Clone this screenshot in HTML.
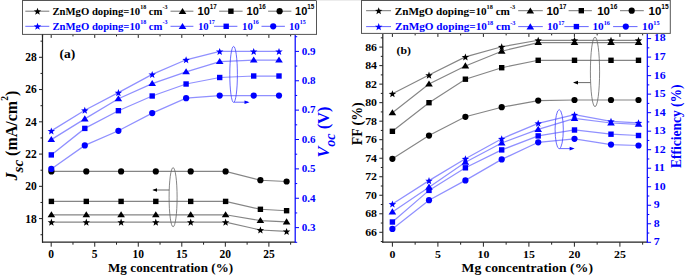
<!DOCTYPE html>
<html><head><meta charset="utf-8"><style>
html,body{margin:0;padding:0;background:#fff;width:685px;height:275px;overflow:hidden;font-family:"Liberation Serif", serif;}
svg{display:block}
</style></head><body>
<svg width="685" height="275" viewBox="0 0 685 275"><line x1="42.50" y1="34.40" x2="42.50" y2="242.70" stroke="#222" stroke-width="1.2"/>
<line x1="42.00" y1="242.20" x2="295.20" y2="242.20" stroke="#222" stroke-width="1.2"/>
<line x1="42.50" y1="34.40" x2="295.20" y2="34.40" stroke="#444" stroke-width="1.0"/>
<line x1="51.20" y1="242.20" x2="51.20" y2="246.70" stroke="#222" stroke-width="1.0"/>
<line x1="51.20" y1="34.40" x2="51.20" y2="37.90" stroke="#222" stroke-width="1.0"/>
<text x="51.20" y="258.40" font-family="'Liberation Serif', serif" font-size="11.5" font-weight="bold" text-anchor="middle" fill="#000" >0</text>
<line x1="72.97" y1="242.20" x2="72.97" y2="244.70" stroke="#222" stroke-width="1.0"/>
<line x1="72.97" y1="34.40" x2="72.97" y2="36.40" stroke="#222" stroke-width="1.0"/>
<line x1="94.74" y1="242.20" x2="94.74" y2="246.70" stroke="#222" stroke-width="1.0"/>
<line x1="94.74" y1="34.40" x2="94.74" y2="37.90" stroke="#222" stroke-width="1.0"/>
<text x="94.74" y="258.40" font-family="'Liberation Serif', serif" font-size="11.5" font-weight="bold" text-anchor="middle" fill="#000" >5</text>
<line x1="116.50" y1="242.20" x2="116.50" y2="244.70" stroke="#222" stroke-width="1.0"/>
<line x1="116.50" y1="34.40" x2="116.50" y2="36.40" stroke="#222" stroke-width="1.0"/>
<line x1="138.27" y1="242.20" x2="138.27" y2="246.70" stroke="#222" stroke-width="1.0"/>
<line x1="138.27" y1="34.40" x2="138.27" y2="37.90" stroke="#222" stroke-width="1.0"/>
<text x="138.27" y="258.40" font-family="'Liberation Serif', serif" font-size="11.5" font-weight="bold" text-anchor="middle" fill="#000" >10</text>
<line x1="160.04" y1="242.20" x2="160.04" y2="244.70" stroke="#222" stroke-width="1.0"/>
<line x1="160.04" y1="34.40" x2="160.04" y2="36.40" stroke="#222" stroke-width="1.0"/>
<line x1="181.81" y1="242.20" x2="181.81" y2="246.70" stroke="#222" stroke-width="1.0"/>
<line x1="181.81" y1="34.40" x2="181.81" y2="37.90" stroke="#222" stroke-width="1.0"/>
<text x="181.81" y="258.40" font-family="'Liberation Serif', serif" font-size="11.5" font-weight="bold" text-anchor="middle" fill="#000" >15</text>
<line x1="203.57" y1="242.20" x2="203.57" y2="244.70" stroke="#222" stroke-width="1.0"/>
<line x1="203.57" y1="34.40" x2="203.57" y2="36.40" stroke="#222" stroke-width="1.0"/>
<line x1="225.34" y1="242.20" x2="225.34" y2="246.70" stroke="#222" stroke-width="1.0"/>
<line x1="225.34" y1="34.40" x2="225.34" y2="37.90" stroke="#222" stroke-width="1.0"/>
<text x="225.34" y="258.40" font-family="'Liberation Serif', serif" font-size="11.5" font-weight="bold" text-anchor="middle" fill="#000" >20</text>
<line x1="247.11" y1="242.20" x2="247.11" y2="244.70" stroke="#222" stroke-width="1.0"/>
<line x1="247.11" y1="34.40" x2="247.11" y2="36.40" stroke="#222" stroke-width="1.0"/>
<line x1="268.88" y1="242.20" x2="268.88" y2="246.70" stroke="#222" stroke-width="1.0"/>
<line x1="268.88" y1="34.40" x2="268.88" y2="37.90" stroke="#222" stroke-width="1.0"/>
<text x="268.88" y="258.40" font-family="'Liberation Serif', serif" font-size="11.5" font-weight="bold" text-anchor="middle" fill="#000" >25</text>
<line x1="290.64" y1="242.20" x2="290.64" y2="244.70" stroke="#222" stroke-width="1.0"/>
<line x1="290.64" y1="34.40" x2="290.64" y2="36.40" stroke="#222" stroke-width="1.0"/>
<line x1="42.50" y1="234.73" x2="40.50" y2="234.73" stroke="#222" stroke-width="1.0"/>
<line x1="42.50" y1="218.60" x2="39.00" y2="218.60" stroke="#222" stroke-width="1.0"/>
<text x="36.80" y="222.50" font-family="'Liberation Serif', serif" font-size="11.5" font-weight="bold" text-anchor="end" fill="#000" >18</text>
<line x1="42.50" y1="202.47" x2="40.50" y2="202.47" stroke="#222" stroke-width="1.0"/>
<line x1="42.50" y1="186.34" x2="39.00" y2="186.34" stroke="#222" stroke-width="1.0"/>
<text x="36.80" y="190.24" font-family="'Liberation Serif', serif" font-size="11.5" font-weight="bold" text-anchor="end" fill="#000" >20</text>
<line x1="42.50" y1="170.21" x2="40.50" y2="170.21" stroke="#222" stroke-width="1.0"/>
<line x1="42.50" y1="154.08" x2="39.00" y2="154.08" stroke="#222" stroke-width="1.0"/>
<text x="36.80" y="157.98" font-family="'Liberation Serif', serif" font-size="11.5" font-weight="bold" text-anchor="end" fill="#000" >22</text>
<line x1="42.50" y1="137.95" x2="40.50" y2="137.95" stroke="#222" stroke-width="1.0"/>
<line x1="42.50" y1="121.82" x2="39.00" y2="121.82" stroke="#222" stroke-width="1.0"/>
<text x="36.80" y="125.72" font-family="'Liberation Serif', serif" font-size="11.5" font-weight="bold" text-anchor="end" fill="#000" >24</text>
<line x1="42.50" y1="105.69" x2="40.50" y2="105.69" stroke="#222" stroke-width="1.0"/>
<line x1="42.50" y1="89.56" x2="39.00" y2="89.56" stroke="#222" stroke-width="1.0"/>
<text x="36.80" y="93.46" font-family="'Liberation Serif', serif" font-size="11.5" font-weight="bold" text-anchor="end" fill="#000" >26</text>
<line x1="42.50" y1="73.43" x2="40.50" y2="73.43" stroke="#222" stroke-width="1.0"/>
<line x1="42.50" y1="57.30" x2="39.00" y2="57.30" stroke="#222" stroke-width="1.0"/>
<text x="36.80" y="61.20" font-family="'Liberation Serif', serif" font-size="11.5" font-weight="bold" text-anchor="end" fill="#000" >28</text>
<line x1="42.50" y1="41.17" x2="40.50" y2="41.17" stroke="#222" stroke-width="1.0"/>
<line x1="295.20" y1="34.40" x2="295.20" y2="242.70" stroke="#0000ff" stroke-width="1.2"/>
<line x1="295.20" y1="242.31" x2="297.20" y2="242.31" stroke="#0000ff" stroke-width="1.0"/>
<line x1="295.20" y1="227.62" x2="299.00" y2="227.62" stroke="#0000ff" stroke-width="1.0"/>
<text x="301.80" y="230.92" font-family="'Liberation Serif', serif" font-size="11" font-weight="bold" text-anchor="start" fill="#0000ff" >0.3</text>
<line x1="295.20" y1="212.94" x2="297.20" y2="212.94" stroke="#0000ff" stroke-width="1.0"/>
<line x1="295.20" y1="198.25" x2="299.00" y2="198.25" stroke="#0000ff" stroke-width="1.0"/>
<text x="301.80" y="201.55" font-family="'Liberation Serif', serif" font-size="11" font-weight="bold" text-anchor="start" fill="#0000ff" >0.4</text>
<line x1="295.20" y1="183.56" x2="297.20" y2="183.56" stroke="#0000ff" stroke-width="1.0"/>
<line x1="295.20" y1="168.88" x2="299.00" y2="168.88" stroke="#0000ff" stroke-width="1.0"/>
<text x="301.80" y="172.18" font-family="'Liberation Serif', serif" font-size="11" font-weight="bold" text-anchor="start" fill="#0000ff" >0.5</text>
<line x1="295.20" y1="154.19" x2="297.20" y2="154.19" stroke="#0000ff" stroke-width="1.0"/>
<line x1="295.20" y1="139.51" x2="299.00" y2="139.51" stroke="#0000ff" stroke-width="1.0"/>
<text x="301.80" y="142.81" font-family="'Liberation Serif', serif" font-size="11" font-weight="bold" text-anchor="start" fill="#0000ff" >0.6</text>
<line x1="295.20" y1="124.82" x2="297.20" y2="124.82" stroke="#0000ff" stroke-width="1.0"/>
<line x1="295.20" y1="110.14" x2="299.00" y2="110.14" stroke="#0000ff" stroke-width="1.0"/>
<text x="301.80" y="113.44" font-family="'Liberation Serif', serif" font-size="11" font-weight="bold" text-anchor="start" fill="#0000ff" >0.7</text>
<line x1="295.20" y1="95.46" x2="297.20" y2="95.46" stroke="#0000ff" stroke-width="1.0"/>
<line x1="295.20" y1="80.77" x2="299.00" y2="80.77" stroke="#0000ff" stroke-width="1.0"/>
<text x="301.80" y="84.07" font-family="'Liberation Serif', serif" font-size="11" font-weight="bold" text-anchor="start" fill="#0000ff" >0.8</text>
<line x1="295.20" y1="66.08" x2="297.20" y2="66.08" stroke="#0000ff" stroke-width="1.0"/>
<line x1="295.20" y1="51.40" x2="299.00" y2="51.40" stroke="#0000ff" stroke-width="1.0"/>
<text x="301.80" y="54.70" font-family="'Liberation Serif', serif" font-size="11" font-weight="bold" text-anchor="start" fill="#0000ff" >0.9</text>
<line x1="295.20" y1="36.71" x2="297.20" y2="36.71" stroke="#0000ff" stroke-width="1.0"/>
<polyline points="51.40,171.40 86.30,171.40 121.10,171.40 155.80,171.40 190.70,171.40 225.60,171.40 260.40,180.20 286.60,181.50" fill="none" stroke="#858585" stroke-width="1.15"/>
<circle cx="51.40" cy="171.40" r="3.1" fill="#000"/>
<circle cx="86.30" cy="171.40" r="3.1" fill="#000"/>
<circle cx="121.10" cy="171.40" r="3.1" fill="#000"/>
<circle cx="155.80" cy="171.40" r="3.1" fill="#000"/>
<circle cx="190.70" cy="171.40" r="3.1" fill="#000"/>
<circle cx="225.60" cy="171.40" r="3.1" fill="#000"/>
<circle cx="260.40" cy="180.20" r="3.1" fill="#000"/>
<circle cx="286.60" cy="181.50" r="3.1" fill="#000"/>
<polyline points="51.40,201.40 86.30,201.40 121.10,201.40 155.80,201.40 190.70,201.40 225.60,201.40 260.40,209.30 286.60,210.70" fill="none" stroke="#858585" stroke-width="1.15"/>
<rect x="48.70" y="198.70" width="5.40" height="5.40" fill="#000"/>
<rect x="83.60" y="198.70" width="5.40" height="5.40" fill="#000"/>
<rect x="118.40" y="198.70" width="5.40" height="5.40" fill="#000"/>
<rect x="153.10" y="198.70" width="5.40" height="5.40" fill="#000"/>
<rect x="188.00" y="198.70" width="5.40" height="5.40" fill="#000"/>
<rect x="222.90" y="198.70" width="5.40" height="5.40" fill="#000"/>
<rect x="257.70" y="206.60" width="5.40" height="5.40" fill="#000"/>
<rect x="283.90" y="208.00" width="5.40" height="5.40" fill="#000"/>
<polyline points="51.40,214.80 86.30,214.80 121.10,214.80 155.80,214.80 190.70,214.80 225.60,214.80 260.40,220.60 286.60,221.90" fill="none" stroke="#858585" stroke-width="1.15"/>
<polygon points="51.40,211.20 55.20,217.30 47.60,217.30" fill="#000"/>
<polygon points="86.30,211.20 90.10,217.30 82.50,217.30" fill="#000"/>
<polygon points="121.10,211.20 124.90,217.30 117.30,217.30" fill="#000"/>
<polygon points="155.80,211.20 159.60,217.30 152.00,217.30" fill="#000"/>
<polygon points="190.70,211.20 194.50,217.30 186.90,217.30" fill="#000"/>
<polygon points="225.60,211.20 229.40,217.30 221.80,217.30" fill="#000"/>
<polygon points="260.40,217.00 264.20,223.10 256.60,223.10" fill="#000"/>
<polygon points="286.60,218.30 290.40,224.40 282.80,224.40" fill="#000"/>
<polyline points="51.40,222.10 86.30,222.10 121.10,222.10 155.80,222.10 190.70,222.10 225.60,222.10 260.40,230.00 286.60,231.40" fill="none" stroke="#858585" stroke-width="1.15"/>
<polygon points="51.40,218.60 52.36,221.17 55.11,221.29 52.96,223.01 53.69,225.66 51.40,224.14 49.11,225.66 49.84,223.01 47.69,221.29 50.44,221.17" fill="#000"/>
<polygon points="86.30,218.60 87.26,221.17 90.01,221.29 87.86,223.01 88.59,225.66 86.30,224.14 84.01,225.66 84.74,223.01 82.59,221.29 85.34,221.17" fill="#000"/>
<polygon points="121.10,218.60 122.06,221.17 124.81,221.29 122.66,223.01 123.39,225.66 121.10,224.14 118.81,225.66 119.54,223.01 117.39,221.29 120.14,221.17" fill="#000"/>
<polygon points="155.80,218.60 156.76,221.17 159.51,221.29 157.36,223.01 158.09,225.66 155.80,224.14 153.51,225.66 154.24,223.01 152.09,221.29 154.84,221.17" fill="#000"/>
<polygon points="190.70,218.60 191.66,221.17 194.41,221.29 192.26,223.01 192.99,225.66 190.70,224.14 188.41,225.66 189.14,223.01 186.99,221.29 189.74,221.17" fill="#000"/>
<polygon points="225.60,218.60 226.56,221.17 229.31,221.29 227.16,223.01 227.89,225.66 225.60,224.14 223.31,225.66 224.04,223.01 221.89,221.29 224.64,221.17" fill="#000"/>
<polygon points="260.40,226.50 261.36,229.07 264.11,229.19 261.96,230.91 262.69,233.56 260.40,232.04 258.11,233.56 258.84,230.91 256.69,229.19 259.44,229.07" fill="#000"/>
<polygon points="286.60,227.90 287.56,230.47 290.31,230.59 288.16,232.31 288.89,234.96 286.60,233.44 284.31,234.96 285.04,232.31 282.89,230.59 285.64,230.47" fill="#000"/>
<polyline points="51.30,168.90 84.80,145.40 118.40,130.80 152.20,113.10 186.10,98.20 219.70,95.60 253.70,95.60 279.00,95.60" fill="none" stroke="#9090ff" stroke-width="1.25"/>
<circle cx="51.30" cy="168.90" r="3.1" fill="#0000ff"/>
<circle cx="84.80" cy="145.40" r="3.1" fill="#0000ff"/>
<circle cx="118.40" cy="130.80" r="3.1" fill="#0000ff"/>
<circle cx="152.20" cy="113.10" r="3.1" fill="#0000ff"/>
<circle cx="186.10" cy="98.20" r="3.1" fill="#0000ff"/>
<circle cx="219.70" cy="95.60" r="3.1" fill="#0000ff"/>
<circle cx="253.70" cy="95.60" r="3.1" fill="#0000ff"/>
<circle cx="279.00" cy="95.60" r="3.1" fill="#0000ff"/>
<polyline points="51.30,154.90 84.80,128.40 118.40,110.70 152.20,96.00 186.10,84.00 219.70,77.50 253.70,76.00 279.00,76.00" fill="none" stroke="#9090ff" stroke-width="1.25"/>
<rect x="48.60" y="152.20" width="5.40" height="5.40" fill="#0000ff"/>
<rect x="82.10" y="125.70" width="5.40" height="5.40" fill="#0000ff"/>
<rect x="115.70" y="108.00" width="5.40" height="5.40" fill="#0000ff"/>
<rect x="149.50" y="93.30" width="5.40" height="5.40" fill="#0000ff"/>
<rect x="183.40" y="81.30" width="5.40" height="5.40" fill="#0000ff"/>
<rect x="217.00" y="74.80" width="5.40" height="5.40" fill="#0000ff"/>
<rect x="251.00" y="73.30" width="5.40" height="5.40" fill="#0000ff"/>
<rect x="276.30" y="73.30" width="5.40" height="5.40" fill="#0000ff"/>
<polyline points="51.30,139.60 84.80,118.90 118.40,98.80 152.20,83.60 186.10,71.80 219.70,61.60 253.70,60.10 279.00,60.10" fill="none" stroke="#9090ff" stroke-width="1.25"/>
<polygon points="51.30,136.00 55.10,142.10 47.50,142.10" fill="#0000ff"/>
<polygon points="84.80,115.30 88.60,121.40 81.00,121.40" fill="#0000ff"/>
<polygon points="118.40,95.20 122.20,101.30 114.60,101.30" fill="#0000ff"/>
<polygon points="152.20,80.00 156.00,86.10 148.40,86.10" fill="#0000ff"/>
<polygon points="186.10,68.20 189.90,74.30 182.30,74.30" fill="#0000ff"/>
<polygon points="219.70,58.00 223.50,64.10 215.90,64.10" fill="#0000ff"/>
<polygon points="253.70,56.50 257.50,62.60 249.90,62.60" fill="#0000ff"/>
<polygon points="279.00,56.50 282.80,62.60 275.20,62.60" fill="#0000ff"/>
<polyline points="51.30,130.90 84.80,110.30 118.40,92.60 152.20,74.40 186.10,59.80 219.70,51.40 253.70,51.40 279.00,51.40" fill="none" stroke="#9090ff" stroke-width="1.25"/>
<polygon points="51.30,127.40 52.26,129.97 55.01,130.09 52.86,131.81 53.59,134.46 51.30,132.94 49.01,134.46 49.74,131.81 47.59,130.09 50.34,129.97" fill="#0000ff"/>
<polygon points="84.80,106.80 85.76,109.37 88.51,109.49 86.36,111.21 87.09,113.86 84.80,112.34 82.51,113.86 83.24,111.21 81.09,109.49 83.84,109.37" fill="#0000ff"/>
<polygon points="118.40,89.10 119.36,91.67 122.11,91.79 119.96,93.51 120.69,96.16 118.40,94.64 116.11,96.16 116.84,93.51 114.69,91.79 117.44,91.67" fill="#0000ff"/>
<polygon points="152.20,70.90 153.16,73.47 155.91,73.59 153.76,75.31 154.49,77.96 152.20,76.44 149.91,77.96 150.64,75.31 148.49,73.59 151.24,73.47" fill="#0000ff"/>
<polygon points="186.10,56.30 187.06,58.87 189.81,58.99 187.66,60.71 188.39,63.36 186.10,61.84 183.81,63.36 184.54,60.71 182.39,58.99 185.14,58.87" fill="#0000ff"/>
<polygon points="219.70,47.90 220.66,50.47 223.41,50.59 221.26,52.31 221.99,54.96 219.70,53.44 217.41,54.96 218.14,52.31 215.99,50.59 218.74,50.47" fill="#0000ff"/>
<polygon points="253.70,47.90 254.66,50.47 257.41,50.59 255.26,52.31 255.99,54.96 253.70,53.44 251.41,54.96 252.14,52.31 249.99,50.59 252.74,50.47" fill="#0000ff"/>
<polygon points="279.00,47.90 279.96,50.47 282.71,50.59 280.56,52.31 281.29,54.96 279.00,53.44 276.71,54.96 277.44,52.31 275.29,50.59 278.04,50.47" fill="#0000ff"/>
<ellipse cx="173.1" cy="197.2" rx="4.0" ry="29.6" fill="none" stroke="#666" stroke-width="0.8"/>
<line x1="169.10" y1="190.00" x2="153.50" y2="190.00" stroke="#444" stroke-width="0.8"/>
<polygon points="152.3,190 157,188.2 157,191.8" fill="#000"/>
<ellipse cx="233.6" cy="74.4" rx="3.8" ry="28" fill="none" stroke="#4444ff" stroke-width="0.8"/>
<line x1="234.00" y1="102.20" x2="248.00" y2="102.20" stroke="#4444ff" stroke-width="0.8"/>
<polygon points="249.5,102.2 244.5,100.4 244.5,104" fill="#0000ff"/>
<text x="59.50" y="58.10" font-family="'Liberation Serif', serif" font-size="13.5" font-weight="bold" text-anchor="start" fill="#000" >(a)</text>
<g transform="translate(17.3,180.4) rotate(-90)"><text x="0" y="0" font-family="'Liberation Serif', serif" font-weight="bold" font-size="16" fill="#000"><tspan font-style="italic">J</tspan><tspan font-size="15" dy="5.6" font-style="italic">sc</tspan><tspan dy="-5.6"> (mA/cm</tspan><tspan font-size="9.5" dy="-9.2">2</tspan><tspan dy="9.2">)</tspan></text></g>
<g transform="translate(329.3,157.6) rotate(-90)"><text x="0" y="0" font-family="'Liberation Serif', serif" font-weight="bold" font-size="16.4" fill="#0000ff"><tspan font-style="italic">V</tspan><tspan font-size="14" dy="6" font-style="italic">oc</tspan><tspan dy="-6"> (V)</tspan></text></g>
<text x="108.00" y="272.00" font-family="'Liberation Serif', serif" font-size="13" font-weight="bold" text-anchor="start" fill="#000" textLength="125.2" lengthAdjust="spacing">Mg concentration (%)</text>
<rect x="22.5" y="0.5" width="294" height="33.9" fill="#fff" stroke="#555" stroke-width="1"/>
<line x1="42.50" y1="34.40" x2="42.50" y2="36.40" stroke="#222" stroke-width="1.2"/>
<line x1="25.30" y1="11.20" x2="49.30" y2="11.20" stroke="#666" stroke-width="0.9"/>
<polygon points="37.50,7.70 38.46,10.27 41.21,10.39 39.06,12.11 39.79,14.76 37.50,13.24 35.21,14.76 35.94,12.11 33.79,10.39 36.54,10.27" fill="#000"/>
<text x="52.40" y="15.00" font-family="'Liberation Serif', serif" font-size="10.7" font-weight="bold" text-anchor="start" fill="#000" >ZnMgO doping=10<tspan font-size="6" dy="-5.7">18</tspan><tspan dy="5.7"> cm</tspan><tspan font-size="6" dy="-5.7">-3</tspan></text>
<line x1="170.50" y1="11.20" x2="193.40" y2="11.20" stroke="#666" stroke-width="0.9"/>
<polygon points="182.50,7.90 186.30,14.00 178.70,14.00" fill="#000"/>
<text x="197.60" y="15.10" font-family="'Liberation Sans', sans-serif" font-size="11" font-weight="bold" text-anchor="start" fill="#000" >10<tspan font-size="6.3" dy="-6">17</tspan></text>
<line x1="219.20" y1="11.20" x2="242.60" y2="11.20" stroke="#666" stroke-width="0.9"/>
<rect x="228.20" y="8.50" width="5.40" height="5.40" fill="#000"/>
<text x="246.60" y="15.10" font-family="'Liberation Sans', sans-serif" font-size="11" font-weight="bold" text-anchor="start" fill="#000" >10<tspan font-size="6.3" dy="-6">16</tspan></text>
<line x1="268.10" y1="11.20" x2="291.40" y2="11.20" stroke="#666" stroke-width="0.9"/>
<circle cx="279.60" cy="11.20" r="3.1" fill="#000"/>
<text x="295.10" y="15.10" font-family="'Liberation Sans', sans-serif" font-size="11" font-weight="bold" text-anchor="start" fill="#000" >10<tspan font-size="6.3" dy="-6">15</tspan></text>
<line x1="25.30" y1="26.30" x2="49.30" y2="26.30" stroke="#5555ff" stroke-width="0.9"/>
<polygon points="37.50,22.80 38.46,25.37 41.21,25.49 39.06,27.21 39.79,29.86 37.50,28.34 35.21,29.86 35.94,27.21 33.79,25.49 36.54,25.37" fill="#0000ff"/>
<text x="52.40" y="30.10" font-family="'Liberation Serif', serif" font-size="10.7" font-weight="bold" text-anchor="start" fill="#0000ff" >ZnMgO doping=10<tspan font-size="6" dy="-5.7">18</tspan><tspan dy="5.7"> cm</tspan><tspan font-size="6" dy="-5.7">-3</tspan></text>
<line x1="170.50" y1="26.30" x2="193.40" y2="26.30" stroke="#5555ff" stroke-width="0.9"/>
<polygon points="182.50,23.00 186.30,29.10 178.70,29.10" fill="#0000ff"/>
<text x="198.00" y="30.10" font-family="'Liberation Serif', serif" font-size="10.7" font-weight="bold" text-anchor="start" fill="#0000ff" >10<tspan font-size="6" dy="-5.7">17</tspan></text>
<line x1="214.00" y1="26.30" x2="237.40" y2="26.30" stroke="#5555ff" stroke-width="0.9"/>
<rect x="223.50" y="23.60" width="5.40" height="5.40" fill="#0000ff"/>
<text x="242.10" y="30.10" font-family="'Liberation Serif', serif" font-size="10.7" font-weight="bold" text-anchor="start" fill="#0000ff" >10<tspan font-size="6" dy="-5.7">16</tspan></text>
<line x1="261.50" y1="26.30" x2="284.90" y2="26.30" stroke="#5555ff" stroke-width="0.9"/>
<circle cx="273.20" cy="26.30" r="3.1" fill="#0000ff"/>
<text x="289.00" y="30.10" font-family="'Liberation Serif', serif" font-size="10.7" font-weight="bold" text-anchor="start" fill="#0000ff" >10<tspan font-size="6" dy="-5.7">15</tspan></text>
<line x1="382.80" y1="33.40" x2="382.80" y2="242.70" stroke="#222" stroke-width="1.2"/>
<line x1="382.30" y1="242.20" x2="647.30" y2="242.20" stroke="#222" stroke-width="1.2"/>
<line x1="382.80" y1="33.40" x2="647.30" y2="33.40" stroke="#444" stroke-width="1.0"/>
<line x1="392.40" y1="242.20" x2="392.40" y2="246.70" stroke="#222" stroke-width="1.0"/>
<line x1="392.40" y1="33.40" x2="392.40" y2="36.90" stroke="#222" stroke-width="1.0"/>
<text transform="translate(392.40,258.40) scale(1.048,1)" font-family="'Liberation Serif', serif" font-size="11.3" font-weight="bold" text-anchor="middle" fill="#000" >0</text>
<line x1="415.15" y1="242.20" x2="415.15" y2="244.70" stroke="#222" stroke-width="1.0"/>
<line x1="415.15" y1="33.40" x2="415.15" y2="35.40" stroke="#222" stroke-width="1.0"/>
<line x1="437.90" y1="242.20" x2="437.90" y2="246.70" stroke="#222" stroke-width="1.0"/>
<line x1="437.90" y1="33.40" x2="437.90" y2="36.90" stroke="#222" stroke-width="1.0"/>
<text transform="translate(437.90,258.40) scale(1.048,1)" font-family="'Liberation Serif', serif" font-size="11.3" font-weight="bold" text-anchor="middle" fill="#000" >5</text>
<line x1="460.65" y1="242.20" x2="460.65" y2="244.70" stroke="#222" stroke-width="1.0"/>
<line x1="460.65" y1="33.40" x2="460.65" y2="35.40" stroke="#222" stroke-width="1.0"/>
<line x1="483.40" y1="242.20" x2="483.40" y2="246.70" stroke="#222" stroke-width="1.0"/>
<line x1="483.40" y1="33.40" x2="483.40" y2="36.90" stroke="#222" stroke-width="1.0"/>
<text transform="translate(483.40,258.40) scale(1.048,1)" font-family="'Liberation Serif', serif" font-size="11.3" font-weight="bold" text-anchor="middle" fill="#000" >10</text>
<line x1="506.15" y1="242.20" x2="506.15" y2="244.70" stroke="#222" stroke-width="1.0"/>
<line x1="506.15" y1="33.40" x2="506.15" y2="35.40" stroke="#222" stroke-width="1.0"/>
<line x1="528.90" y1="242.20" x2="528.90" y2="246.70" stroke="#222" stroke-width="1.0"/>
<line x1="528.90" y1="33.40" x2="528.90" y2="36.90" stroke="#222" stroke-width="1.0"/>
<text transform="translate(528.90,258.40) scale(1.048,1)" font-family="'Liberation Serif', serif" font-size="11.3" font-weight="bold" text-anchor="middle" fill="#000" >15</text>
<line x1="551.65" y1="242.20" x2="551.65" y2="244.70" stroke="#222" stroke-width="1.0"/>
<line x1="551.65" y1="33.40" x2="551.65" y2="35.40" stroke="#222" stroke-width="1.0"/>
<line x1="574.40" y1="242.20" x2="574.40" y2="246.70" stroke="#222" stroke-width="1.0"/>
<line x1="574.40" y1="33.40" x2="574.40" y2="36.90" stroke="#222" stroke-width="1.0"/>
<text transform="translate(574.40,258.40) scale(1.048,1)" font-family="'Liberation Serif', serif" font-size="11.3" font-weight="bold" text-anchor="middle" fill="#000" >20</text>
<line x1="597.15" y1="242.20" x2="597.15" y2="244.70" stroke="#222" stroke-width="1.0"/>
<line x1="597.15" y1="33.40" x2="597.15" y2="35.40" stroke="#222" stroke-width="1.0"/>
<line x1="619.90" y1="242.20" x2="619.90" y2="246.70" stroke="#222" stroke-width="1.0"/>
<line x1="619.90" y1="33.40" x2="619.90" y2="36.90" stroke="#222" stroke-width="1.0"/>
<text transform="translate(619.90,258.40) scale(1.048,1)" font-family="'Liberation Serif', serif" font-size="11.3" font-weight="bold" text-anchor="middle" fill="#000" >25</text>
<line x1="642.65" y1="242.20" x2="642.65" y2="244.70" stroke="#222" stroke-width="1.0"/>
<line x1="642.65" y1="33.40" x2="642.65" y2="35.40" stroke="#222" stroke-width="1.0"/>
<line x1="382.80" y1="241.56" x2="380.80" y2="241.56" stroke="#222" stroke-width="1.0"/>
<line x1="382.80" y1="232.30" x2="379.30" y2="232.30" stroke="#222" stroke-width="1.0"/>
<text transform="translate(377.00,235.80) scale(1.048,1)" font-family="'Liberation Serif', serif" font-size="11.3" font-weight="bold" text-anchor="end" fill="#000" >66</text>
<line x1="382.80" y1="223.04" x2="380.80" y2="223.04" stroke="#222" stroke-width="1.0"/>
<line x1="382.80" y1="213.78" x2="379.30" y2="213.78" stroke="#222" stroke-width="1.0"/>
<text transform="translate(377.00,217.28) scale(1.048,1)" font-family="'Liberation Serif', serif" font-size="11.3" font-weight="bold" text-anchor="end" fill="#000" >68</text>
<line x1="382.80" y1="204.52" x2="380.80" y2="204.52" stroke="#222" stroke-width="1.0"/>
<line x1="382.80" y1="195.26" x2="379.30" y2="195.26" stroke="#222" stroke-width="1.0"/>
<text transform="translate(377.00,198.76) scale(1.048,1)" font-family="'Liberation Serif', serif" font-size="11.3" font-weight="bold" text-anchor="end" fill="#000" >70</text>
<line x1="382.80" y1="186.00" x2="380.80" y2="186.00" stroke="#222" stroke-width="1.0"/>
<line x1="382.80" y1="176.74" x2="379.30" y2="176.74" stroke="#222" stroke-width="1.0"/>
<text transform="translate(377.00,180.24) scale(1.048,1)" font-family="'Liberation Serif', serif" font-size="11.3" font-weight="bold" text-anchor="end" fill="#000" >72</text>
<line x1="382.80" y1="167.48" x2="380.80" y2="167.48" stroke="#222" stroke-width="1.0"/>
<line x1="382.80" y1="158.22" x2="379.30" y2="158.22" stroke="#222" stroke-width="1.0"/>
<text transform="translate(377.00,161.72) scale(1.048,1)" font-family="'Liberation Serif', serif" font-size="11.3" font-weight="bold" text-anchor="end" fill="#000" >74</text>
<line x1="382.80" y1="148.96" x2="380.80" y2="148.96" stroke="#222" stroke-width="1.0"/>
<line x1="382.80" y1="139.70" x2="379.30" y2="139.70" stroke="#222" stroke-width="1.0"/>
<text transform="translate(377.00,143.20) scale(1.048,1)" font-family="'Liberation Serif', serif" font-size="11.3" font-weight="bold" text-anchor="end" fill="#000" >76</text>
<line x1="382.80" y1="130.44" x2="380.80" y2="130.44" stroke="#222" stroke-width="1.0"/>
<line x1="382.80" y1="121.18" x2="379.30" y2="121.18" stroke="#222" stroke-width="1.0"/>
<text transform="translate(377.00,124.68) scale(1.048,1)" font-family="'Liberation Serif', serif" font-size="11.3" font-weight="bold" text-anchor="end" fill="#000" >78</text>
<line x1="382.80" y1="111.92" x2="380.80" y2="111.92" stroke="#222" stroke-width="1.0"/>
<line x1="382.80" y1="102.66" x2="379.30" y2="102.66" stroke="#222" stroke-width="1.0"/>
<text transform="translate(377.00,106.16) scale(1.048,1)" font-family="'Liberation Serif', serif" font-size="11.3" font-weight="bold" text-anchor="end" fill="#000" >80</text>
<line x1="382.80" y1="93.40" x2="380.80" y2="93.40" stroke="#222" stroke-width="1.0"/>
<line x1="382.80" y1="84.14" x2="379.30" y2="84.14" stroke="#222" stroke-width="1.0"/>
<text transform="translate(377.00,87.64) scale(1.048,1)" font-family="'Liberation Serif', serif" font-size="11.3" font-weight="bold" text-anchor="end" fill="#000" >82</text>
<line x1="382.80" y1="74.88" x2="380.80" y2="74.88" stroke="#222" stroke-width="1.0"/>
<line x1="382.80" y1="65.62" x2="379.30" y2="65.62" stroke="#222" stroke-width="1.0"/>
<text transform="translate(377.00,69.12) scale(1.048,1)" font-family="'Liberation Serif', serif" font-size="11.3" font-weight="bold" text-anchor="end" fill="#000" >84</text>
<line x1="382.80" y1="56.36" x2="380.80" y2="56.36" stroke="#222" stroke-width="1.0"/>
<line x1="382.80" y1="47.10" x2="379.30" y2="47.10" stroke="#222" stroke-width="1.0"/>
<text transform="translate(377.00,50.60) scale(1.048,1)" font-family="'Liberation Serif', serif" font-size="11.3" font-weight="bold" text-anchor="end" fill="#000" >86</text>
<line x1="382.80" y1="37.84" x2="380.80" y2="37.84" stroke="#222" stroke-width="1.0"/>
<line x1="647.30" y1="33.40" x2="647.30" y2="242.70" stroke="#0000ff" stroke-width="1.2"/>
<line x1="647.30" y1="242.30" x2="651.10" y2="242.30" stroke="#0000ff" stroke-width="1.0"/>
<text transform="translate(653.80,245.20) scale(1.048,1)" font-family="'Liberation Serif', serif" font-size="11.3" font-weight="bold" text-anchor="start" fill="#0000ff" >7</text>
<line x1="647.30" y1="233.04" x2="649.30" y2="233.04" stroke="#0000ff" stroke-width="1.0"/>
<line x1="647.30" y1="223.78" x2="651.10" y2="223.78" stroke="#0000ff" stroke-width="1.0"/>
<text transform="translate(653.80,226.68) scale(1.048,1)" font-family="'Liberation Serif', serif" font-size="11.3" font-weight="bold" text-anchor="start" fill="#0000ff" >8</text>
<line x1="647.30" y1="214.52" x2="649.30" y2="214.52" stroke="#0000ff" stroke-width="1.0"/>
<line x1="647.30" y1="205.26" x2="651.10" y2="205.26" stroke="#0000ff" stroke-width="1.0"/>
<text transform="translate(653.80,208.16) scale(1.048,1)" font-family="'Liberation Serif', serif" font-size="11.3" font-weight="bold" text-anchor="start" fill="#0000ff" >9</text>
<line x1="647.30" y1="196.00" x2="649.30" y2="196.00" stroke="#0000ff" stroke-width="1.0"/>
<line x1="647.30" y1="186.74" x2="651.10" y2="186.74" stroke="#0000ff" stroke-width="1.0"/>
<text transform="translate(653.80,189.64) scale(1.048,1)" font-family="'Liberation Serif', serif" font-size="11.3" font-weight="bold" text-anchor="start" fill="#0000ff" >10</text>
<line x1="647.30" y1="177.48" x2="649.30" y2="177.48" stroke="#0000ff" stroke-width="1.0"/>
<line x1="647.30" y1="168.22" x2="651.10" y2="168.22" stroke="#0000ff" stroke-width="1.0"/>
<text transform="translate(653.80,171.12) scale(1.048,1)" font-family="'Liberation Serif', serif" font-size="11.3" font-weight="bold" text-anchor="start" fill="#0000ff" >11</text>
<line x1="647.30" y1="158.96" x2="649.30" y2="158.96" stroke="#0000ff" stroke-width="1.0"/>
<line x1="647.30" y1="149.70" x2="651.10" y2="149.70" stroke="#0000ff" stroke-width="1.0"/>
<text transform="translate(653.80,152.60) scale(1.048,1)" font-family="'Liberation Serif', serif" font-size="11.3" font-weight="bold" text-anchor="start" fill="#0000ff" >12</text>
<line x1="647.30" y1="140.44" x2="649.30" y2="140.44" stroke="#0000ff" stroke-width="1.0"/>
<line x1="647.30" y1="131.18" x2="651.10" y2="131.18" stroke="#0000ff" stroke-width="1.0"/>
<text transform="translate(653.80,134.08) scale(1.048,1)" font-family="'Liberation Serif', serif" font-size="11.3" font-weight="bold" text-anchor="start" fill="#0000ff" >13</text>
<line x1="647.30" y1="121.92" x2="649.30" y2="121.92" stroke="#0000ff" stroke-width="1.0"/>
<line x1="647.30" y1="112.66" x2="651.10" y2="112.66" stroke="#0000ff" stroke-width="1.0"/>
<text transform="translate(653.80,115.56) scale(1.048,1)" font-family="'Liberation Serif', serif" font-size="11.3" font-weight="bold" text-anchor="start" fill="#0000ff" >14</text>
<line x1="647.30" y1="103.40" x2="649.30" y2="103.40" stroke="#0000ff" stroke-width="1.0"/>
<line x1="647.30" y1="94.14" x2="651.10" y2="94.14" stroke="#0000ff" stroke-width="1.0"/>
<text transform="translate(653.80,97.04) scale(1.048,1)" font-family="'Liberation Serif', serif" font-size="11.3" font-weight="bold" text-anchor="start" fill="#0000ff" >15</text>
<line x1="647.30" y1="84.88" x2="649.30" y2="84.88" stroke="#0000ff" stroke-width="1.0"/>
<line x1="647.30" y1="75.62" x2="651.10" y2="75.62" stroke="#0000ff" stroke-width="1.0"/>
<text transform="translate(653.80,78.52) scale(1.048,1)" font-family="'Liberation Serif', serif" font-size="11.3" font-weight="bold" text-anchor="start" fill="#0000ff" >16</text>
<line x1="647.30" y1="66.36" x2="649.30" y2="66.36" stroke="#0000ff" stroke-width="1.0"/>
<line x1="647.30" y1="57.10" x2="651.10" y2="57.10" stroke="#0000ff" stroke-width="1.0"/>
<text transform="translate(653.80,60.00) scale(1.048,1)" font-family="'Liberation Serif', serif" font-size="11.3" font-weight="bold" text-anchor="start" fill="#0000ff" >17</text>
<line x1="647.30" y1="47.84" x2="649.30" y2="47.84" stroke="#0000ff" stroke-width="1.0"/>
<line x1="647.30" y1="38.58" x2="651.10" y2="38.58" stroke="#0000ff" stroke-width="1.0"/>
<text transform="translate(653.80,41.48) scale(1.048,1)" font-family="'Liberation Serif', serif" font-size="11.3" font-weight="bold" text-anchor="start" fill="#0000ff" >18</text>
<polyline points="392.40,158.80 429.00,135.60 465.40,116.80 501.70,107.20 538.20,100.60 574.50,100.00 611.00,100.00 638.50,100.00" fill="none" stroke="#858585" stroke-width="1.15"/>
<circle cx="392.40" cy="158.80" r="3.1" fill="#000"/>
<circle cx="429.00" cy="135.60" r="3.1" fill="#000"/>
<circle cx="465.40" cy="116.80" r="3.1" fill="#000"/>
<circle cx="501.70" cy="107.20" r="3.1" fill="#000"/>
<circle cx="538.20" cy="100.60" r="3.1" fill="#000"/>
<circle cx="574.50" cy="100.00" r="3.1" fill="#000"/>
<circle cx="611.00" cy="100.00" r="3.1" fill="#000"/>
<circle cx="638.50" cy="100.00" r="3.1" fill="#000"/>
<polyline points="392.40,131.30 429.00,102.70 465.40,79.20 501.70,67.70 538.20,60.30 574.50,60.30 611.00,60.30 638.50,60.30" fill="none" stroke="#858585" stroke-width="1.15"/>
<rect x="389.70" y="128.60" width="5.40" height="5.40" fill="#000"/>
<rect x="426.30" y="100.00" width="5.40" height="5.40" fill="#000"/>
<rect x="462.70" y="76.50" width="5.40" height="5.40" fill="#000"/>
<rect x="499.00" y="65.00" width="5.40" height="5.40" fill="#000"/>
<rect x="535.50" y="57.60" width="5.40" height="5.40" fill="#000"/>
<rect x="571.80" y="57.60" width="5.40" height="5.40" fill="#000"/>
<rect x="608.30" y="57.60" width="5.40" height="5.40" fill="#000"/>
<rect x="635.80" y="57.60" width="5.40" height="5.40" fill="#000"/>
<polyline points="392.40,112.80 429.00,84.10 465.40,65.90 501.70,51.20 538.20,42.60 574.50,42.60 611.00,42.60 638.50,42.60" fill="none" stroke="#858585" stroke-width="1.15"/>
<polygon points="392.40,109.20 396.20,115.30 388.60,115.30" fill="#000"/>
<polygon points="429.00,80.50 432.80,86.60 425.20,86.60" fill="#000"/>
<polygon points="465.40,62.30 469.20,68.40 461.60,68.40" fill="#000"/>
<polygon points="501.70,47.60 505.50,53.70 497.90,53.70" fill="#000"/>
<polygon points="538.20,39.00 542.00,45.10 534.40,45.10" fill="#000"/>
<polygon points="574.50,39.00 578.30,45.10 570.70,45.10" fill="#000"/>
<polygon points="611.00,39.00 614.80,45.10 607.20,45.10" fill="#000"/>
<polygon points="638.50,39.00 642.30,45.10 634.70,45.10" fill="#000"/>
<polyline points="392.40,93.70 429.00,75.10 465.40,56.90 501.70,46.80 538.20,40.30 574.50,40.30 611.00,40.30 638.50,40.30" fill="none" stroke="#858585" stroke-width="1.15"/>
<polygon points="392.40,90.20 393.36,92.77 396.11,92.89 393.96,94.61 394.69,97.26 392.40,95.74 390.11,97.26 390.84,94.61 388.69,92.89 391.44,92.77" fill="#000"/>
<polygon points="429.00,71.60 429.96,74.17 432.71,74.29 430.56,76.01 431.29,78.66 429.00,77.14 426.71,78.66 427.44,76.01 425.29,74.29 428.04,74.17" fill="#000"/>
<polygon points="465.40,53.40 466.36,55.97 469.11,56.09 466.96,57.81 467.69,60.46 465.40,58.94 463.11,60.46 463.84,57.81 461.69,56.09 464.44,55.97" fill="#000"/>
<polygon points="501.70,43.30 502.66,45.87 505.41,45.99 503.26,47.71 503.99,50.36 501.70,48.84 499.41,50.36 500.14,47.71 497.99,45.99 500.74,45.87" fill="#000"/>
<polygon points="538.20,36.80 539.16,39.37 541.91,39.49 539.76,41.21 540.49,43.86 538.20,42.34 535.91,43.86 536.64,41.21 534.49,39.49 537.24,39.37" fill="#000"/>
<polygon points="574.50,36.80 575.46,39.37 578.21,39.49 576.06,41.21 576.79,43.86 574.50,42.34 572.21,43.86 572.94,41.21 570.79,39.49 573.54,39.37" fill="#000"/>
<polygon points="611.00,36.80 611.96,39.37 614.71,39.49 612.56,41.21 613.29,43.86 611.00,42.34 608.71,43.86 609.44,41.21 607.29,39.49 610.04,39.37" fill="#000"/>
<polygon points="638.50,36.80 639.46,39.37 642.21,39.49 640.06,41.21 640.79,43.86 638.50,42.34 636.21,43.86 636.94,41.21 634.79,39.49 637.54,39.37" fill="#000"/>
<polyline points="392.40,228.90 429.00,200.20 465.40,180.40 501.70,159.40 538.20,142.30 574.50,138.80 611.00,144.60 638.50,145.50" fill="none" stroke="#9090ff" stroke-width="1.25"/>
<circle cx="392.40" cy="228.90" r="3.1" fill="#0000ff"/>
<circle cx="429.00" cy="200.20" r="3.1" fill="#0000ff"/>
<circle cx="465.40" cy="180.40" r="3.1" fill="#0000ff"/>
<circle cx="501.70" cy="159.40" r="3.1" fill="#0000ff"/>
<circle cx="538.20" cy="142.30" r="3.1" fill="#0000ff"/>
<circle cx="574.50" cy="138.80" r="3.1" fill="#0000ff"/>
<circle cx="611.00" cy="144.60" r="3.1" fill="#0000ff"/>
<circle cx="638.50" cy="145.50" r="3.1" fill="#0000ff"/>
<polyline points="392.40,222.00 429.00,190.40 465.40,167.80 501.70,149.90 538.20,135.90 574.50,130.00 611.00,134.20 638.50,135.50" fill="none" stroke="#9090ff" stroke-width="1.25"/>
<rect x="389.70" y="219.30" width="5.40" height="5.40" fill="#0000ff"/>
<rect x="426.30" y="187.70" width="5.40" height="5.40" fill="#0000ff"/>
<rect x="462.70" y="165.10" width="5.40" height="5.40" fill="#0000ff"/>
<rect x="499.00" y="147.20" width="5.40" height="5.40" fill="#0000ff"/>
<rect x="535.50" y="133.20" width="5.40" height="5.40" fill="#0000ff"/>
<rect x="571.80" y="127.30" width="5.40" height="5.40" fill="#0000ff"/>
<rect x="608.30" y="131.50" width="5.40" height="5.40" fill="#0000ff"/>
<rect x="635.80" y="132.80" width="5.40" height="5.40" fill="#0000ff"/>
<polyline points="392.40,211.90 429.00,187.20 465.40,162.30 501.70,143.00 538.20,129.40 574.50,118.40 611.00,123.00 638.50,124.30" fill="none" stroke="#9090ff" stroke-width="1.25"/>
<polygon points="392.40,208.30 396.20,214.40 388.60,214.40" fill="#0000ff"/>
<polygon points="429.00,183.60 432.80,189.70 425.20,189.70" fill="#0000ff"/>
<polygon points="465.40,158.70 469.20,164.80 461.60,164.80" fill="#0000ff"/>
<polygon points="501.70,139.40 505.50,145.50 497.90,145.50" fill="#0000ff"/>
<polygon points="538.20,125.80 542.00,131.90 534.40,131.90" fill="#0000ff"/>
<polygon points="574.50,114.80 578.30,120.90 570.70,120.90" fill="#0000ff"/>
<polygon points="611.00,119.40 614.80,125.50 607.20,125.50" fill="#0000ff"/>
<polygon points="638.50,120.70 642.30,126.80 634.70,126.80" fill="#0000ff"/>
<polyline points="392.40,204.00 429.00,180.60 465.40,158.70 501.70,138.70 538.20,123.30 574.50,114.70 611.00,121.30 638.50,122.80" fill="none" stroke="#9090ff" stroke-width="1.25"/>
<polygon points="392.40,200.50 393.36,203.07 396.11,203.19 393.96,204.91 394.69,207.56 392.40,206.04 390.11,207.56 390.84,204.91 388.69,203.19 391.44,203.07" fill="#0000ff"/>
<polygon points="429.00,177.10 429.96,179.67 432.71,179.79 430.56,181.51 431.29,184.16 429.00,182.64 426.71,184.16 427.44,181.51 425.29,179.79 428.04,179.67" fill="#0000ff"/>
<polygon points="465.40,155.20 466.36,157.77 469.11,157.89 466.96,159.61 467.69,162.26 465.40,160.74 463.11,162.26 463.84,159.61 461.69,157.89 464.44,157.77" fill="#0000ff"/>
<polygon points="501.70,135.20 502.66,137.77 505.41,137.89 503.26,139.61 503.99,142.26 501.70,140.74 499.41,142.26 500.14,139.61 497.99,137.89 500.74,137.77" fill="#0000ff"/>
<polygon points="538.20,119.80 539.16,122.37 541.91,122.49 539.76,124.21 540.49,126.86 538.20,125.34 535.91,126.86 536.64,124.21 534.49,122.49 537.24,122.37" fill="#0000ff"/>
<polygon points="574.50,111.20 575.46,113.77 578.21,113.89 576.06,115.61 576.79,118.26 574.50,116.74 572.21,118.26 572.94,115.61 570.79,113.89 573.54,113.77" fill="#0000ff"/>
<polygon points="611.00,117.80 611.96,120.37 614.71,120.49 612.56,122.21 613.29,124.86 611.00,123.34 608.71,124.86 609.44,122.21 607.29,120.49 610.04,120.37" fill="#0000ff"/>
<polygon points="638.50,119.30 639.46,121.87 642.21,121.99 640.06,123.71 640.79,126.36 638.50,124.84 636.21,126.36 636.94,123.71 634.79,121.99 637.54,121.87" fill="#0000ff"/>
<ellipse cx="595" cy="71.9" rx="4.6" ry="34.8" fill="none" stroke="#666" stroke-width="0.8"/>
<line x1="590.40" y1="82.60" x2="574.50" y2="82.60" stroke="#444" stroke-width="0.8"/>
<polygon points="573,82.6 578,80.8 578,84.4" fill="#000"/>
<ellipse cx="559.2" cy="129.2" rx="4.1" ry="19.6" fill="none" stroke="#4444ff" stroke-width="0.8"/>
<line x1="559.70" y1="148.60" x2="573.00" y2="148.60" stroke="#4444ff" stroke-width="0.8"/>
<polygon points="574.6,148.6 569.6,146.8 569.6,150.4" fill="#0000ff"/>
<text transform="translate(396.60,54.00) scale(1.048,1)" font-family="'Liberation Serif', serif" font-size="11.2" font-weight="bold" text-anchor="start" fill="#000" >(b)</text>
<g transform="translate(362.2,145.3) rotate(-90) scale(1,1.048)"><text x="0" y="0" font-family="'Liberation Serif', serif" font-weight="bold" font-size="13.9" fill="#000">FF (%)</text></g>
<g transform="translate(681,168) rotate(-90) scale(1,1.048)"><text x="0" y="0" font-family="'Liberation Serif', serif" font-weight="bold" font-size="13.5" fill="#0000ff">Efficiency (%)</text></g>
<text transform="translate(461.60,272.00) scale(1.048,1)" font-family="'Liberation Serif', serif" font-size="13" font-weight="bold" text-anchor="start" fill="#000" textLength="125.4" lengthAdjust="spacing">Mg concentration (%)</text>
<line x1="316.50" y1="0.40" x2="361.50" y2="0.40" stroke="#e4e4e4" stroke-width="0.8"/>
<rect x="361.5" y="0.5" width="308.8" height="32.9" fill="#fff" stroke="#555" stroke-width="1"/>
<line x1="366.10" y1="10.70" x2="391.00" y2="10.70" stroke="#666" stroke-width="0.9"/>
<polygon points="378.70,7.20 379.66,9.77 382.41,9.89 380.26,11.61 380.99,14.26 378.70,12.74 376.41,14.26 377.14,11.61 374.99,9.89 377.74,9.77" fill="#000"/>
<text transform="translate(394.70,14.50) scale(1.048,1)" font-family="'Liberation Serif', serif" font-size="10.7" font-weight="bold" text-anchor="start" fill="#000" >ZnMgO doping=10<tspan font-size="6" dy="-5.7">18</tspan><tspan dy="5.7"> cm</tspan><tspan font-size="6" dy="-5.7">-3</tspan></text>
<line x1="518.20" y1="10.70" x2="542.80" y2="10.70" stroke="#666" stroke-width="0.9"/>
<polygon points="530.30,7.40 534.10,13.50 526.50,13.50" fill="#000"/>
<text transform="translate(546.40,14.60) scale(1.048,1)" font-family="'Liberation Sans', sans-serif" font-size="11" font-weight="bold" text-anchor="start" fill="#000" >10<tspan font-size="6.3" dy="-6">17</tspan></text>
<line x1="568.60" y1="10.70" x2="591.90" y2="10.70" stroke="#666" stroke-width="0.9"/>
<rect x="578.60" y="8.00" width="5.40" height="5.40" fill="#000"/>
<text transform="translate(597.20,14.60) scale(1.048,1)" font-family="'Liberation Sans', sans-serif" font-size="11" font-weight="bold" text-anchor="start" fill="#000" >10<tspan font-size="6.3" dy="-6">16</tspan></text>
<line x1="620.00" y1="10.70" x2="643.80" y2="10.70" stroke="#666" stroke-width="0.9"/>
<circle cx="631.70" cy="10.70" r="3.1" fill="#000"/>
<text transform="translate(648.50,14.60) scale(1.048,1)" font-family="'Liberation Sans', sans-serif" font-size="11" font-weight="bold" text-anchor="start" fill="#000" >10<tspan font-size="6.3" dy="-6">15</tspan></text>
<line x1="366.10" y1="26.60" x2="391.00" y2="26.60" stroke="#5555ff" stroke-width="0.9"/>
<polygon points="378.70,23.10 379.66,25.67 382.41,25.79 380.26,27.51 380.99,30.16 378.70,28.64 376.41,30.16 377.14,27.51 374.99,25.79 377.74,25.67" fill="#0000ff"/>
<text transform="translate(395.00,30.40) scale(1.048,1)" font-family="'Liberation Serif', serif" font-size="10.7" font-weight="bold" text-anchor="start" fill="#0000ff" >ZnMgO doping=10<tspan font-size="6" dy="-5.7">18</tspan><tspan dy="5.7"> cm</tspan><tspan font-size="6" dy="-5.7">-3</tspan></text>
<line x1="518.20" y1="26.60" x2="542.80" y2="26.60" stroke="#5555ff" stroke-width="0.9"/>
<polygon points="530.30,23.30 534.10,29.40 526.50,29.40" fill="#0000ff"/>
<text transform="translate(547.00,30.40) scale(1.048,1)" font-family="'Liberation Serif', serif" font-size="10.7" font-weight="bold" text-anchor="start" fill="#0000ff" >10<tspan font-size="6" dy="-5.7">17</tspan></text>
<line x1="564.40" y1="26.60" x2="588.70" y2="26.60" stroke="#5555ff" stroke-width="0.9"/>
<rect x="573.70" y="23.90" width="5.40" height="5.40" fill="#0000ff"/>
<text transform="translate(592.50,30.40) scale(1.048,1)" font-family="'Liberation Serif', serif" font-size="10.7" font-weight="bold" text-anchor="start" fill="#0000ff" >10<tspan font-size="6" dy="-5.7">16</tspan></text>
<line x1="613.10" y1="26.60" x2="637.50" y2="26.60" stroke="#5555ff" stroke-width="0.9"/>
<circle cx="625.80" cy="26.60" r="3.1" fill="#0000ff"/>
<text transform="translate(642.10,30.40) scale(1.048,1)" font-family="'Liberation Serif', serif" font-size="10.7" font-weight="bold" text-anchor="start" fill="#0000ff" >10<tspan font-size="6" dy="-5.7">15</tspan></text></svg>
</body></html>
